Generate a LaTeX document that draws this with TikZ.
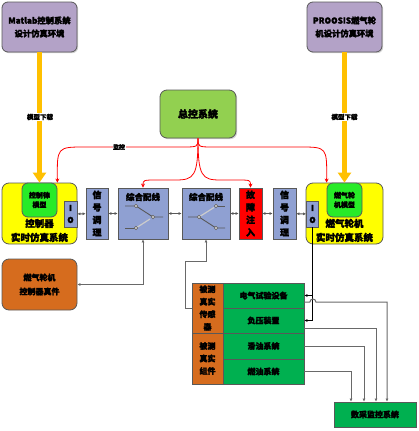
\documentclass[tikz,border=0pt]{standalone}
\usepackage{fontspec}
\newfontfamily\cjk[FakeBold=2]{Noto Sans CJK SC}
\newcommand\cjb{\cjk\bfseries}
\usetikzlibrary{arrows.meta,shadows,calc}
\definecolor{purp}{RGB}{179,162,199}
\definecolor{bgray}{RGB}{89,89,89}
\definecolor{zkgreen}{RGB}{146,208,80}
\definecolor{ylw}{RGB}{255,255,0}
\definecolor{bgreen}{RGB}{40,235,40}
\definecolor{lblue}{RGB}{143,160,210}
\definecolor{org}{RGB}{214,108,30}
\definecolor{tgreen}{RGB}{0,176,80}
\definecolor{arrorg}{RGB}{255,192,0}
\definecolor{lgray}{RGB}{105,105,105}
\begin{document}
\begin{tikzpicture}[x=1pt,y=-1pt,
  every node/.style={font=\cjb},
  box/.style={draw=bgray, line width=0.8pt, inner sep=0pt, align=center},
  shd/.style={drop shadow={shadow xshift=1.2pt,shadow yshift=-1.2pt,fill=black!35}},
  fs/.style={font=\cjb\fontsize{#1}{#1}\selectfont},
  bigarrow/.style={line width=4.5pt, draw=arrorg, -{Triangle[length=10pt,width=13pt]}},
  redline/.style={draw=red, line width=0.8pt, -{Stealth[length=4pt,width=4pt]}},
  conn/.style={draw=lgray, line width=1pt},
  tip/.style={-{Latex[length=3pt,width=3pt]}},
  dtip/.style={{Latex[length=3pt,width=3pt]}-{Latex[length=3pt,width=3pt]}},
  sw/.style={draw=bgray, line width=0.9pt},
  swoff/.style={draw=black!20, line width=1.2pt},
  swc/.style={draw=bgray, fill=black!15, line width=0.6pt},
]
\useasboundingbox (0,0) rectangle (419,431);

% top boxes
\node[box, rounded corners=6pt, fill=purp, minimum width=75pt, minimum height=50pt, shd, font=\cjb\fontsize{8.3}{13}\selectfont] (matlab) at (39.5,27) {Matlab控制系统\\设计仿真环境};
\node[box, rounded corners=6pt, fill=purp, minimum width=75pt, minimum height=50pt, shd, font=\cjb\fontsize{8.3}{13}\selectfont] (proosis) at (344.5,27) {PROOSIS燃气轮\\机设计仿真环境};
\node[box, rounded corners=7pt, fill=zkgreen, minimum width=76pt, minimum height=48pt, shd, fs=10] (zk) at (198,114) {总控系统};

% real-time systems
\node[box, rounded corners=7pt, fill=ylw, minimum width=75pt, minimum height=61pt] (ctl) at (39.5,213.5) {};
\node[box, rounded corners=6pt, fill=bgreen, minimum width=35pt, minimum height=34pt, font=\cjb\fontsize{7}{9.5}\selectfont] (gm) at (39.5,200) {控制律\\模型};
\node[box, fill=lblue, minimum width=13pt, minimum height=26pt, font=\cjb\fontsize{8}{12}\selectfont] (ioL) at (70.5,214) {I\\O};
\node[align=center, font=\cjb\fontsize{9.5}{14}\selectfont] (ctltxt) at (39.5,230.5) {控制器\\实时仿真系统};

\node[box, rounded corners=7pt, fill=ylw, minimum width=77pt, minimum height=61pt] (eng) at (344.5,213.5) {};
\node[box, rounded corners=6pt, fill=bgreen, minimum width=35pt, minimum height=34pt, font=\cjb\fontsize{7}{9.5}\selectfont] (gmR) at (344.5,200) {燃气轮\\机模型};
\node[box, fill=lblue, minimum width=12pt, minimum height=26pt, font=\cjb\fontsize{8}{12}\selectfont] (ioR) at (312.5,214) {I\\O};
\node[align=center, font=\cjb\fontsize{9.5}{14}\selectfont] (engtxt) at (344.5,230.5) {燃气轮机\\实时仿真系统};

% chain
\node[box, fill=lblue, minimum width=22pt, minimum height=51pt, font=\cjb\fontsize{9}{12.5}\selectfont] (sig1) at (97,213.5) {信\\号\\调\\理};
\node[box, fill=lblue, minimum width=50pt, minimum height=51pt] (sw1) at (143,213.5) {};
\node[box, fill=lblue, minimum width=48pt, minimum height=51pt] (sw2) at (206,213.5) {};
\node[box, fill=red, minimum width=23pt, minimum height=51pt, font=\cjb\fontsize{9}{12.5}\selectfont] (fault) at (250.5,213.5) {故\\障\\注\\入};
\node[box, fill=lblue, minimum width=23pt, minimum height=51pt, font=\cjb\fontsize{9}{12.5}\selectfont] (sig2) at (284.5,213.5) {信\\号\\调\\理};
\node[fs=8.5] (sw1t) at (143,197) {综合配线};
\node[fs=8.5] (sw2t) at (206,197) {综合配线};

% switch icons
\begin{scope}[shift={(sw1.center)}]
  \draw[swoff] (-7,14.5) -- (7,5.5);
  \draw[sw] (-18,-7.5) -- (-7,-7.5) -- (10,3.5) -- (20,3.5);
  \draw[sw] (-18,14.5) -- (-7,14.5);
  \draw[swc] (-7,-7.5) circle (1.8);
  \draw[swc] (10,3.5) circle (1.8);
  \draw[swc] (-7,14.5) circle (1.8);
\end{scope}
\begin{scope}[shift={(sw2.center)}]
  \draw[swoff] (-7,3.5) -- (8,-6);
  \draw[sw] (-18,3.5) -- (-7,3.5) -- (10,14.5) -- (19,14.5);
  \draw[sw] (10,-7.5) -- (19,-7.5);
  \draw[swc] (-7,3.5) circle (1.8);
  \draw[swc] (10,14.5) circle (1.8);
  \draw[swc] (10,-7.5) circle (1.8);
\end{scope}

% chain arrows
\draw[conn, dtip, draw=bgray] (ioL) -- (sig1);
\draw[conn, dtip, draw=bgray] (sig1) -- (sw1);
\draw[conn, dtip, draw=bgray] (sw1) -- (sw2);
\draw[conn, dtip, draw=bgray] (sw2) -- (fault);
\draw[conn, dtip, draw=bgray] (fault) -- (sig2);
\draw[conn, dtip, draw=bgray] (sig2) -- (ioR);

% big download arrows
\draw[bigarrow] (matlab.south) -- (ctl.north);
\draw[bigarrow] (proosis.south) -- (eng.north);
\node[fill=white, inner sep=1pt, fs=6.5] (dl1) at (40,117) {模型下载};
\node[fill=white, inner sep=1pt, fs=6.5] (dl2) at (344.5,117) {模型下载};

% red control lines
\draw[redline] (zk.south) .. controls (198,147) .. (182,147) -- (85,147) .. controls (57,147) .. (ctl.north -| gm.east);
\draw[redline] (zk.south) .. controls (198,147) .. (214,147) -- (300,147) .. controls (327,147) .. (eng.north -| gmR.west);
\draw[redline] (zk.south) .. controls (198,176) and (194,180) .. (176,180) -- (158,180) .. controls (143,180) .. (sw1.north);
\draw[redline] (zk.south) .. controls (198,176) and (202,180) .. (220,180) -- (236,180) .. controls (250.5,180) .. (fault.north);
\node[fill=white, inner sep=0.5pt, fs=6] (jk) at (119,147) {监控};

% controller hardware
\node[box, rounded corners=7pt, fill=org, minimum width=75pt, minimum height=51pt, font=\cjb\fontsize{8}{14}\selectfont] (hw) at (39.5,284.5) {燃气轮机\\控制器真件};
\draw[conn, dtip] (sw1.south) |- (hw.east);

% table
\node[box, fill=org, minimum width=31pt, minimum height=50pt, font=\cjb\fontsize{8}{12.5}\selectfont] (sens) at (207.5,308) {被测\\真实\\传感\\器};
\node[box, fill=org, minimum width=31pt, minimum height=51pt, font=\cjb\fontsize{8}{12.5}\selectfont] (comp) at (207.5,358.5) {被测\\真实\\组件};
\node[box, fill=tgreen, minimum width=81pt, minimum height=25pt, fs=8] (r1) at (263.5,295.5) {电气试验设备};
\node[box, fill=tgreen, minimum width=81pt, minimum height=25pt, fs=8] (r2) at (263.5,320.5) {负压装置};
\node[box, fill=tgreen, minimum width=81pt, minimum height=26pt, fs=8] (r3) at (263.5,346) {滑油系统};
\node[box, fill=tgreen, minimum width=81pt, minimum height=25pt, fs=8] (r4) at (263.5,371.5) {燃油系统};
\draw[conn, tip] (sens.west) -- ++(-6,0) |- ($(sw2.south)+(0,22)$) -- (sw2.south);

% engine IO to devices
\draw[line width=1pt, tip] (ioR.south) |- (r2.east);
\draw[line width=1pt, tip] (ioR.south |- r1.east) -- (r1.east);

% data acquisition
\node[box, fill=tgreen, minimum width=82pt, minimum height=25pt, shd, fs=8] (daq) at (375,414.5) {数采监控系统};
\draw[conn, tip] ($(r1.east)+(0,6.5)$) -- ++(5.5,0) arc[start angle=180, end angle=360, radius=3] -| ($(daq.north)+(12,0)$);
\draw[conn, tip] ($(r2.east)+(0,7.5)$) -| ($(daq.north)+(1,0)$);
\draw[conn, tip] (r3.east) -| ($(daq.north)+(-11,0)$);
\draw[conn, tip] (r4.east) -| ($(daq.north)+(-24,0)$);
\end{tikzpicture}
\end{document}
